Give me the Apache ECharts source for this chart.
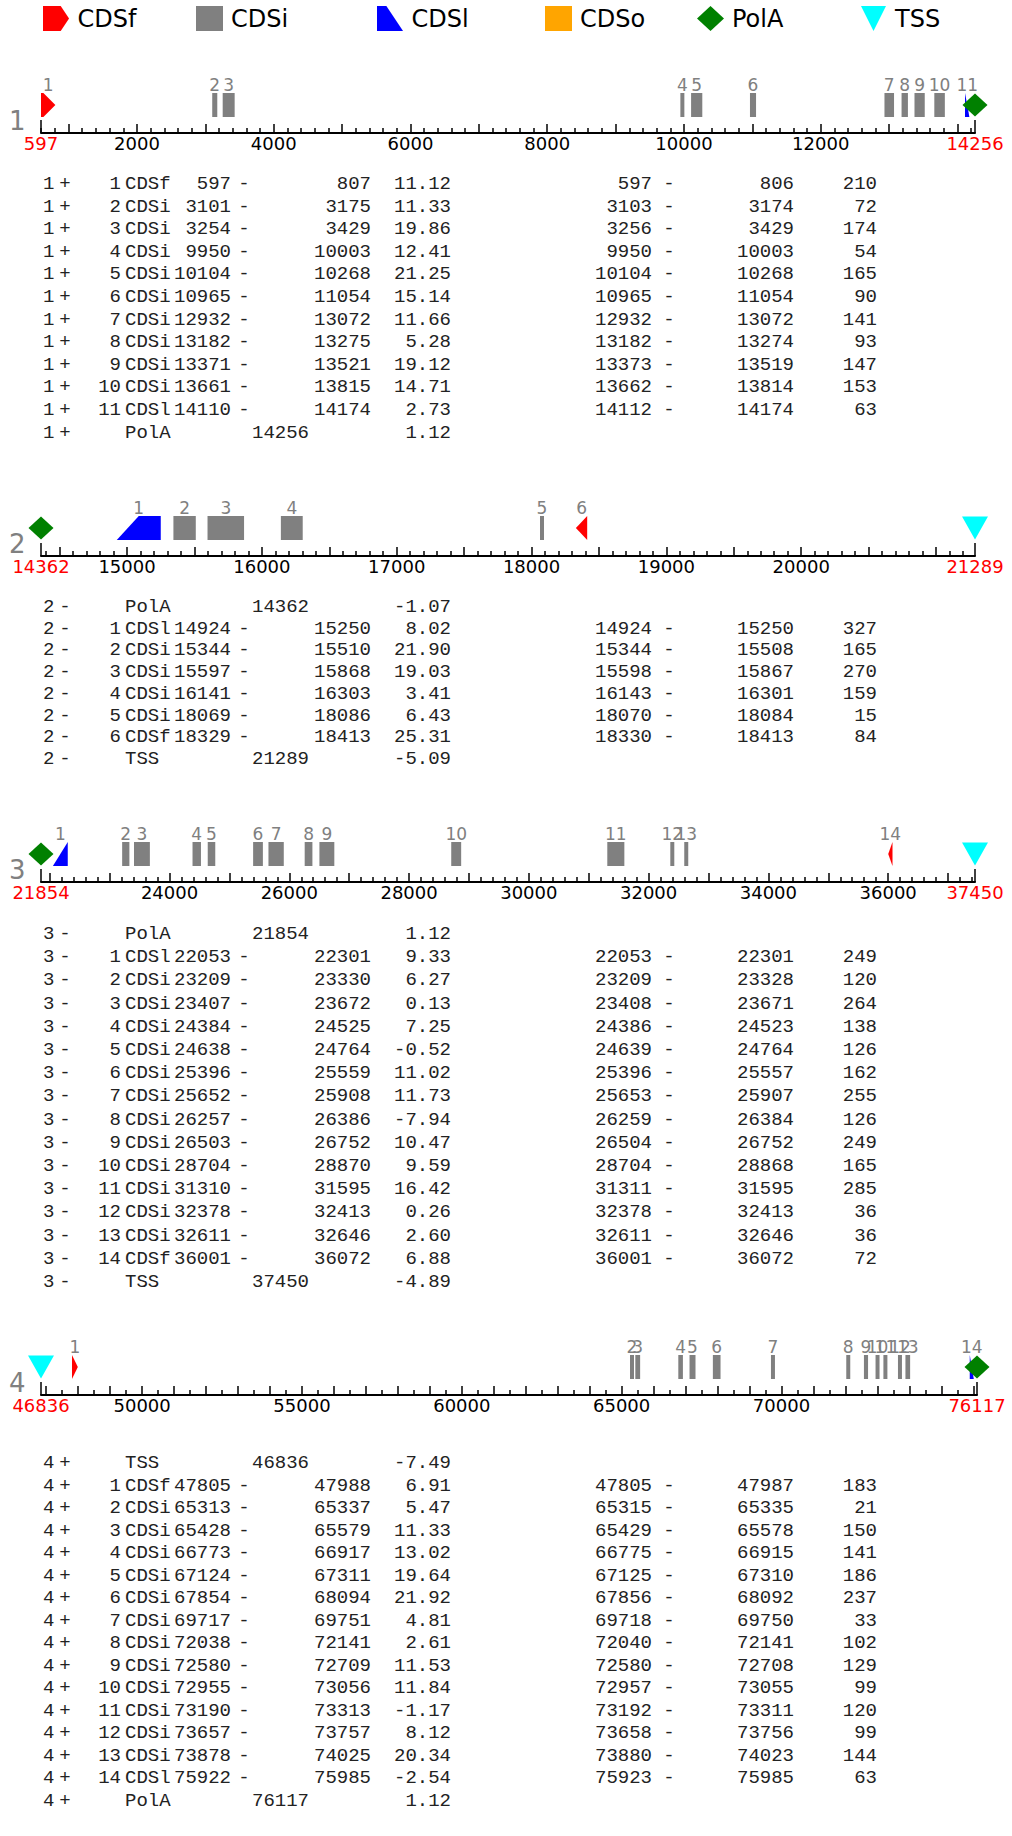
<!DOCTYPE html>
<html>
<head>
<meta charset="utf-8">
<script src="https://cdn.jsdelivr.net/npm/echarts@6/dist/echarts.min.js"></script>
<style>
  html, body { margin: 0; padding: 0; background: #ffffff; }
  #chart { width: 1012px; height: 1836px; }
</style>
</head>
<body>
<div id="chart"></div>
<script>
// Predicted genes: one track per gene, exons drawn along the sequence axis,
// followed by the prediction table for that gene.

const trackNames  = ['1', '2', '3', '4'];
const trackStrand = ['+', '-', '-', '+'];
const trackStart  = [597, 14362, 21854, 46836];
const trackEnd    = [14256, 21289, 37450, 76117];

// labelled tick values on each axis (start and end are labelled in red)
const labelTicks1 = [2000, 4000, 6000, 8000, 10000, 12000];
const labelTicks2 = [15000, 16000, 17000, 18000, 19000, 20000];
const labelTicks3 = [24000, 26000, 28000, 30000, 32000, 34000, 36000];
const labelTicks4 = [50000, 55000, 60000, 65000, 70000];
const majorStep = [1000, 500, 1000, 1000];
const minorStep = [200, 100, 200, 500];

// rows: [exon no, type, begin, end, score, coding begin, coding end, length]
const rows1 = [
  ['1',  'CDSf',   597,   807, 11.12,   597,   806, 210],
  ['2',  'CDSi',  3101,  3175, 11.33,  3103,  3174,  72],
  ['3',  'CDSi',  3254,  3429, 19.86,  3256,  3429, 174],
  ['4',  'CDSi',  9950, 10003, 12.41,  9950, 10003,  54],
  ['5',  'CDSi', 10104, 10268, 21.25, 10104, 10268, 165],
  ['6',  'CDSi', 10965, 11054, 15.14, 10965, 11054,  90],
  ['7',  'CDSi', 12932, 13072, 11.66, 12932, 13072, 141],
  ['8',  'CDSi', 13182, 13275,  5.28, 13182, 13274,  93],
  ['9',  'CDSi', 13371, 13521, 19.12, 13373, 13519, 147],
  ['10', 'CDSi', 13661, 13815, 14.71, 13662, 13814, 153],
  ['11', 'CDSl', 14110, 14174,  2.73, 14112, 14174,  63],
  ['',   'PolA', 14256,  null,  1.12,  null,  null, null]
];
const rows2 = [
  ['',  'PolA', 14362,  null, -1.07,  null,  null, null],
  ['1', 'CDSl', 14924, 15250,  8.02, 14924, 15250, 327],
  ['2', 'CDSi', 15344, 15510, 21.90, 15344, 15508, 165],
  ['3', 'CDSi', 15597, 15868, 19.03, 15598, 15867, 270],
  ['4', 'CDSi', 16141, 16303,  3.41, 16143, 16301, 159],
  ['5', 'CDSi', 18069, 18086,  6.43, 18070, 18084,  15],
  ['6', 'CDSf', 18329, 18413, 25.31, 18330, 18413,  84],
  ['',  'TSS',  21289,  null, -5.09,  null,  null, null]
];
const rows3 = [
  ['',   'PolA', 21854,  null,  1.12,  null,  null, null],
  ['1',  'CDSl', 22053, 22301,  9.33, 22053, 22301, 249],
  ['2',  'CDSi', 23209, 23330,  6.27, 23209, 23328, 120],
  ['3',  'CDSi', 23407, 23672,  0.13, 23408, 23671, 264],
  ['4',  'CDSi', 24384, 24525,  7.25, 24386, 24523, 138],
  ['5',  'CDSi', 24638, 24764, -0.52, 24639, 24764, 126],
  ['6',  'CDSi', 25396, 25559, 11.02, 25396, 25557, 162],
  ['7',  'CDSi', 25652, 25908, 11.73, 25653, 25907, 255],
  ['8',  'CDSi', 26257, 26386, -7.94, 26259, 26384, 126],
  ['9',  'CDSi', 26503, 26752, 10.47, 26504, 26752, 249],
  ['10', 'CDSi', 28704, 28870,  9.59, 28704, 28868, 165],
  ['11', 'CDSi', 31310, 31595, 16.42, 31311, 31595, 285],
  ['12', 'CDSi', 32378, 32413,  0.26, 32378, 32413,  36],
  ['13', 'CDSi', 32611, 32646,  2.60, 32611, 32646,  36],
  ['14', 'CDSf', 36001, 36072,  6.88, 36001, 36072,  72],
  ['',   'TSS',  37450,  null, -4.89,  null,  null, null]
];
const rows4 = [
  ['',   'TSS',  46836,  null, -7.49,  null,  null, null],
  ['1',  'CDSf', 47805, 47988,  6.91, 47805, 47987, 183],
  ['2',  'CDSi', 65313, 65337,  5.47, 65315, 65335,  21],
  ['3',  'CDSi', 65428, 65579, 11.33, 65429, 65578, 150],
  ['4',  'CDSi', 66773, 66917, 13.02, 66775, 66915, 141],
  ['5',  'CDSi', 67124, 67311, 19.64, 67125, 67310, 186],
  ['6',  'CDSi', 67854, 68094, 21.92, 67856, 68092, 237],
  ['7',  'CDSi', 69717, 69751,  4.81, 69718, 69750,  33],
  ['8',  'CDSi', 72038, 72141,  2.61, 72040, 72141, 102],
  ['9',  'CDSi', 72580, 72709, 11.53, 72580, 72708, 129],
  ['10', 'CDSi', 72955, 73056, 11.84, 72957, 73055,  99],
  ['11', 'CDSi', 73190, 73313, -1.17, 73192, 73311, 120],
  ['12', 'CDSi', 73657, 73757,  8.12, 73658, 73756,  99],
  ['13', 'CDSi', 73878, 74025, 20.34, 73880, 74023, 144],
  ['14', 'CDSl', 75922, 75985, -2.54, 75923, 75985,  63],
  ['',   'PolA', 76117,  null,  1.12,  null,  null, null]
];

const trackRows = [rows1, rows2, rows3, rows4];
const trackLabelTicks = [labelTicks1, labelTicks2, labelTicks3, labelTicks4];

// ---- layout ----
const AXIS_Y     = [133, 556, 882, 1395];   // y of each axis line
const TABLE_Y    = [184, 607, 934, 1463];   // centre of first table row
const ROW_STEP   = [22.6, 21.7, 23.2, 22.5];
const GRID_LEFT  = 41, GRID_H = 50;
const GRID_RIGHT = [37, 37, 37, 35];

const TYPE_COLOR = { CDSf: '#ff0000', CDSi: '#808080', CDSl: '#0000ff', CDSo: '#ffa500', PolA: '#008000', TSS: '#00ffff' };
const SANS = '"DejaVu Sans", Verdana, sans-serif';
const MONO = '"Liberation Mono", "Courier New", monospace';

function multiples(step, lo, hi, skip) {
  const out = [];
  for (let v = Math.ceil(lo / step) * step; v <= hi; v += step) {
    if (!skip || v % skip !== 0) out.push(v);
  }
  return out;
}

function exonPolygon(type, strand, x0, x1, yTop, yBot) {
  let w = x1 - x0;
  if (w < 4) { const c = (x0 + x1) / 2; x0 = c - 2; x1 = c + 2; w = 4; }
  const yMid = (yTop + yBot) / 2;
  if (type === 'CDSf') {
    const h = Math.min(w, 12);
    return strand === '+'
      ? [[x0, yTop], [x1 - h, yTop], [x1, yMid], [x1 - h, yBot], [x0, yBot]]
      : [[x1, yTop], [x0 + h, yTop], [x0, yMid], [x0 + h, yBot], [x1, yBot]];
  }
  if (type === 'CDSl') {
    const s = Math.min(w, 22);
    return strand === '+'
      ? [[x0, yTop], [x1 - s, yTop], [x1, yBot], [x0, yBot]]
      : [[x0, yBot], [x0 + s, yTop], [x1, yTop], [x1, yBot]];
  }
  return [[x0, yTop], [x1, yTop], [x1, yBot], [x0, yBot]];
}

const grid = [], xAxis = [], yAxis = [], series = [], graphic = [];

trackNames.forEach((name, t) => {
  const s = trackStart[t], e = trackEnd[t];
  grid.push({ left: GRID_LEFT, right: GRID_RIGHT[t], top: AXIS_Y[t] - GRID_H, height: GRID_H });
  yAxis.push({ gridIndex: t, type: 'value', min: 0, max: GRID_H, show: false });

  // main axis: line, 1000-style ticks, labels
  xAxis.push({
    gridIndex: t, type: 'value', min: s, max: e, position: 'bottom',
    splitLine: { show: false },
    axisLine: { show: true, onZero: false, lineStyle: { color: '#000', width: 2 } },
    axisTick: { show: true, inside: true, length: 9, lineStyle: { color: '#000', width: 1.5 },
                customValues: multiples(majorStep[t], s, e) },
    axisLabel: {
      show: true, margin: 1, fontFamily: SANS, fontSize: 18, color: '#000',
      customValues: [s].concat(trackLabelTicks[t], [e]),
      formatter: v => (v === s || v === e) ? '{r|' + v + '}' : String(v),
      rich: { r: { color: '#ff0000', fontFamily: SANS, fontSize: 18 } }
    }
  });
  // minor ticks
  xAxis.push({
    gridIndex: t, type: 'value', min: s, max: e, position: 'bottom',
    splitLine: { show: false }, axisLabel: { show: false },
    axisLine: { show: false, onZero: false },
    axisTick: { show: true, inside: true, length: 5, lineStyle: { color: '#000', width: 1.5 },
                customValues: multiples(minorStep[t], s, e, majorStep[t]) }
  });
  // long ticks at both ends
  xAxis.push({
    gridIndex: t, type: 'value', min: s, max: e, position: 'bottom',
    splitLine: { show: false }, axisLabel: { show: false },
    axisLine: { show: false, onZero: false },
    axisTick: { show: true, inside: true, length: 13, lineStyle: { color: '#000', width: 1.5 },
                customValues: [s, e] }
  });

  const xi = t * 3;
  const rows = trackRows[t];

  ['CDSf', 'CDSi', 'CDSl', 'CDSo'].forEach(type => {
    const data = rows.filter(r => r[1] === type).map(r => [r[2], r[3], r[0]]);
    series.push({
      name: type, type: 'custom', xAxisIndex: xi, yAxisIndex: t, z: 2,
      itemStyle: { color: TYPE_COLOR[type] },
      encode: { x: [0, 1] },
      data: data,
      renderItem: (params, api) => {
        const a = api.coord([api.value(0), 40]);
        const b = api.coord([api.value(1), 16]);
        const pts = exonPolygon(type, trackStrand[t], a[0], b[0], a[1], b[1]);
        return {
          type: 'group',
          children: [
            { type: 'polygon', shape: { points: pts }, style: { fill: TYPE_COLOR[type] } },
            { type: 'text', style: {
                text: String(data[params.dataIndex][2]),
                x: (a[0] + b[0]) / 2, y: a[1],
                textAlign: 'center', textVerticalAlign: 'bottom',
                fill: '#808080', font: '17px ' + SANS } }
          ]
        };
      }
    });
  });

  // signals: polyA (diamond) and TSS (downward triangle)
  const pol = rows.filter(r => r[1] === 'PolA').map(r => [r[2], 28]);
  const tss = rows.filter(r => r[1] === 'TSS').map(r => [r[2], 28]);
  series.push({
    name: 'PolA', type: 'scatter', xAxisIndex: xi, yAxisIndex: t, z: 5,
    symbol: 'diamond', symbolSize: [25, 23], itemStyle: { color: TYPE_COLOR.PolA, opacity: 1 },
    data: pol, silent: true
  });
  series.push({
    name: 'TSS', type: 'scatter', xAxisIndex: xi, yAxisIndex: t, z: 5,
    symbol: 'path://M0,0L24,0L12,24Z', symbolSize: [26, 23], itemStyle: { color: TYPE_COLOR.TSS, opacity: 1 },
    data: tss, silent: true
  });

  // gene number at the left of the axis
  graphic.push({
    type: 'text', x: 9, y: AXIS_Y[t] - 3,
    style: { text: name, font: '26px ' + SANS, lineHeight: 18, fill: '#808080', textAlign: 'left', textVerticalAlign: 'bottom' }
  });

  // prediction table
  rows.forEach((r, i) => {
    const y = TABLE_Y[t] + i * ROW_STEP[t];
    const [no, type, b, en, score, cb, ce, len] = r;
    const cells = [[name, 43, 'left'], [trackStrand[t], 65, 'center'], [no, 121, 'right'], [type, 125, 'left']];
    if (en == null) {
      cells.push([String(b), 252, 'left']);
    } else {
      cells.push([String(b), 231, 'right'], ['-', 244, 'center'], [String(en), 371, 'right']);
    }
    cells.push([score.toFixed(2), 451, 'right']);
    if (cb != null) {
      cells.push([String(cb), 652, 'right'], ['-', 669, 'center'], [String(ce), 794, 'right'], [String(len), 877, 'right']);
    }
    cells.forEach(c => {
      if (c[0] === '') return;
      graphic.push({
        type: 'text', x: c[1], y: y,
        style: { text: c[0], font: '19px ' + MONO, fill: '#222', textAlign: c[2], textVerticalAlign: 'middle' }
      });
    });
  });
});

// legend entries, each placed on its own
const legendNames = ['CDSf', 'CDSi', 'CDSl', 'CDSo', 'PolA', 'TSS'];
const legendIcons = ['path://M0,0L17,0L25,12L17,24L0,24Z', 'rect', 'path://M0,0L9,0L25,24L0,24Z', 'rect', 'diamond', 'path://M0,0L24,0L12,24Z'];
const legendLeft  = [43, 196, 377, 545, 697, 861];

const legend = legendNames.map((n, i) => ({
  left: legendLeft[i], top: 6, padding: 0, itemWidth: 27, itemHeight: 25, itemGap: 0,
  selectedMode: false,
  textStyle: { fontFamily: SANS, fontSize: 24, color: '#000', padding: [0, 0, 0, 3] },
  data: [{ name: n, icon: legendIcons[i], itemStyle: { color: TYPE_COLOR[n] } }]
}));

const chart = echarts.init(document.getElementById('chart'), null, { renderer: 'svg' });
chart.setOption({
  animation: false,
  backgroundColor: '#ffffff',
  tooltip: { show: false },
  legend: legend,
  grid: grid,
  xAxis: xAxis,
  yAxis: yAxis,
  series: series,
  graphic: graphic
});
</script>
</body>
</html>
